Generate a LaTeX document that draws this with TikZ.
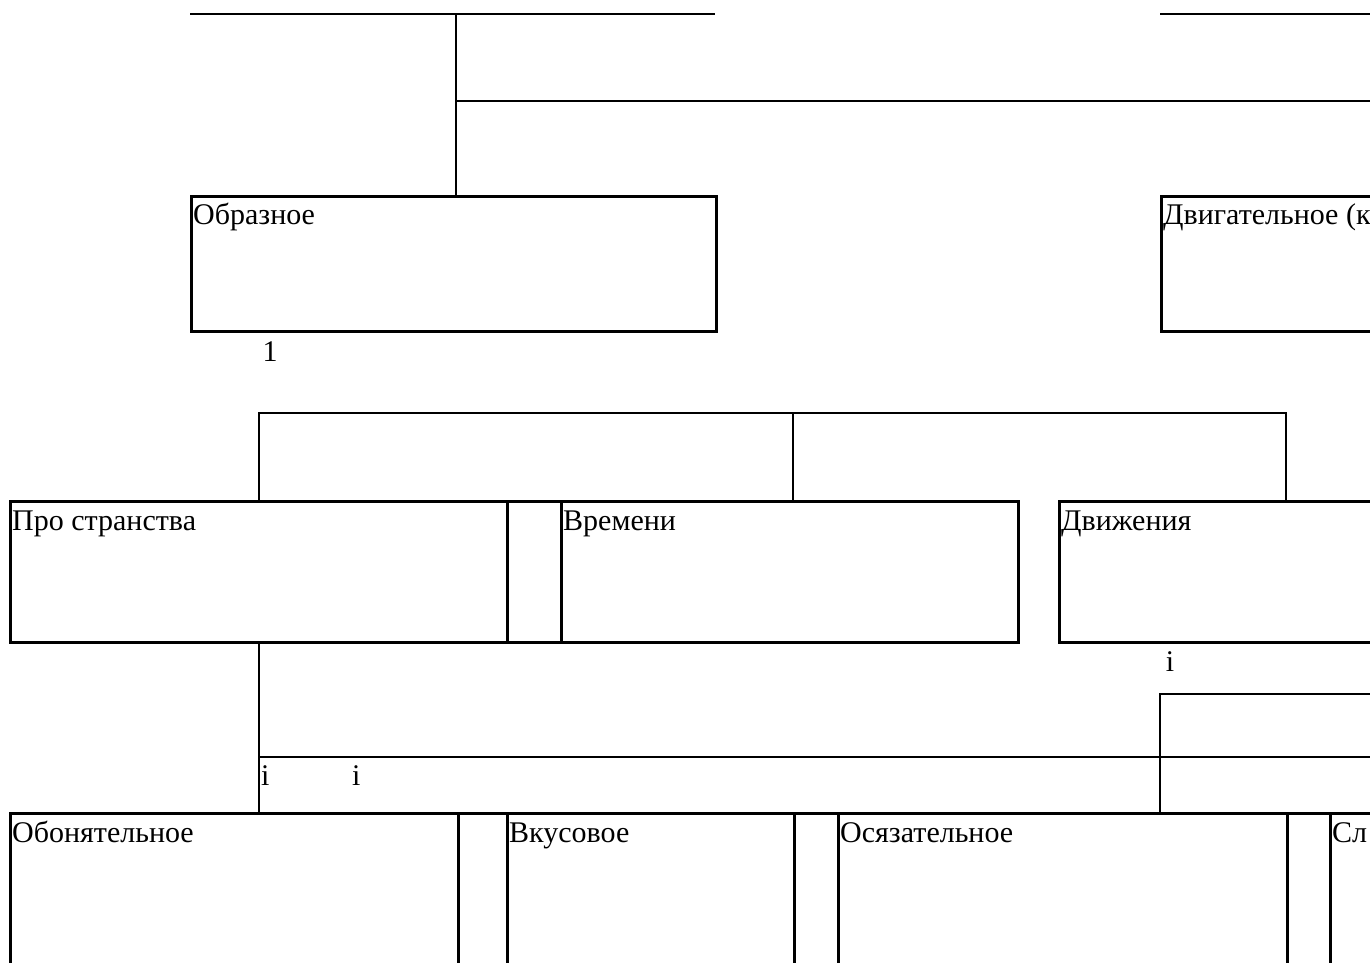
\documentclass[tikz,border=0pt]{standalone}
\usepackage{fontspec}
\setmainfont{Liberation Serif}
\usetikzlibrary{positioning}

\begin{document}
\begin{tikzpicture}[x=1pt,y=-1pt,
    blk/.style 2 args={draw, line width=2.6pt, rectangle, anchor=north west,
                       inner sep=0pt, minimum width=#1, minimum height=#2},
    lbl/.style={anchor=base west, inner sep=0pt, font=\fontsize{30}{35}\selectfont},
    ln/.style={line width=2.6pt}]
  \useasboundingbox (0,0) rectangle (1370,962);
  \clip (0,0) rectangle (1370,962);

  % верхний уровень
  \node[blk={525pt}{135pt}] (obraz) at (190,195) {};
  \node[blk={400pt}{135pt}] (dvig)  at (1160,195) {};
  \node[lbl] (obraz-t) at ([shift={(3,29)}]obraz.north west) {Образное};
  \node[lbl] (dvig-t)  at ([shift={(3,29)}]dvig.north west) {Двигательное (к};
  \node[lbl, anchor=base] (one) at (270,361) {1};

  \coordinate (a1) at (190,14);
  \coordinate (a2) at (715,14);
  \coordinate (a3) at (456,14);
  \coordinate (a4) at (1370,101);
  \coordinate (b1) at (1160,14);
  \coordinate (b2) at (1370,14);
  \draw[ln] (a1) -- (a2);
  \draw[ln] (b1) -- (b2);
  \draw[ln] (a3) -- (a3 |- obraz.north);
  \draw[ln] (a3 |- a4) -- (a4);

  % второй уровень
  \node[blk={497pt}{141pt}] (prostr) at (9,500) {};
  \node[blk={54pt}{141pt}]  (gap1)   at (506,500) {};
  \node[blk={457pt}{141pt}] (vrem)   at (560,500) {};
  \node[blk={400pt}{141pt}] (dvizh)  at (1058,500) {};
  \node[lbl] (prostr-t) at ([shift={(3,30)}]prostr.north west) {Про странства};
  \node[lbl] (vrem-t)   at ([shift={(3,30)}]vrem.north west) {Времени};
  \node[lbl] (dvizh-t)  at ([shift={(3,30)}]dvizh.north west) {Движения};
  \node[lbl, anchor=base] (i1) at (1170,671) {i};

  \coordinate (m1) at (259,413);
  \coordinate (m2) at (1286,413);
  \coordinate (m3) at (793,413);
  \draw[ln] (m1 |- prostr.north) -- (m1) -- (m2) -- (m2 |- dvizh.north);
  \draw[ln] (m3) -- (m3 |- vrem.north);

  % третий уровень
  \node[blk={448pt}{200pt}] (obon)  at (9,812) {};
  \node[blk={49pt}{200pt}]  (gap2)  at (457,812) {};
  \node[blk={287pt}{200pt}] (vkus)  at (506,812) {};
  \node[blk={44pt}{200pt}]  (gap3)  at (793,812) {};
  \node[blk={449pt}{200pt}] (osyaz) at (837,812) {};
  \node[blk={43pt}{200pt}]  (gap4)  at (1286,812) {};
  \node[blk={300pt}{200pt}] (sluh)  at (1329,812) {};
  \node[lbl] (obon-t)  at ([shift={(3,30)}]obon.north west) {Обонятельное};
  \node[lbl] (vkus-t)  at ([shift={(3,30)}]vkus.north west) {Вкусовое};
  \node[lbl] (osyaz-t) at ([shift={(3,30)}]osyaz.north west) {Осязательное};
  \node[lbl] (sluh-t)  at ([shift={(3,30)}]sluh.north west) {Сл};
  \node[lbl] (i2) at (261,785) {i};
  \node[lbl] (i3) at (352,785) {i};

  \coordinate (n1) at (1370,757);
  \coordinate (n2) at (1160,694);
  \coordinate (n3) at (1370,694);
  \draw[ln] (m1 |- prostr.south) -- (m1 |- obon.north);
  \draw[ln] (m1 |- n1) -- (n1);
  \draw[ln] (n2 |- obon.north) -- (n2) -- (n3);
\end{tikzpicture}
\end{document}
